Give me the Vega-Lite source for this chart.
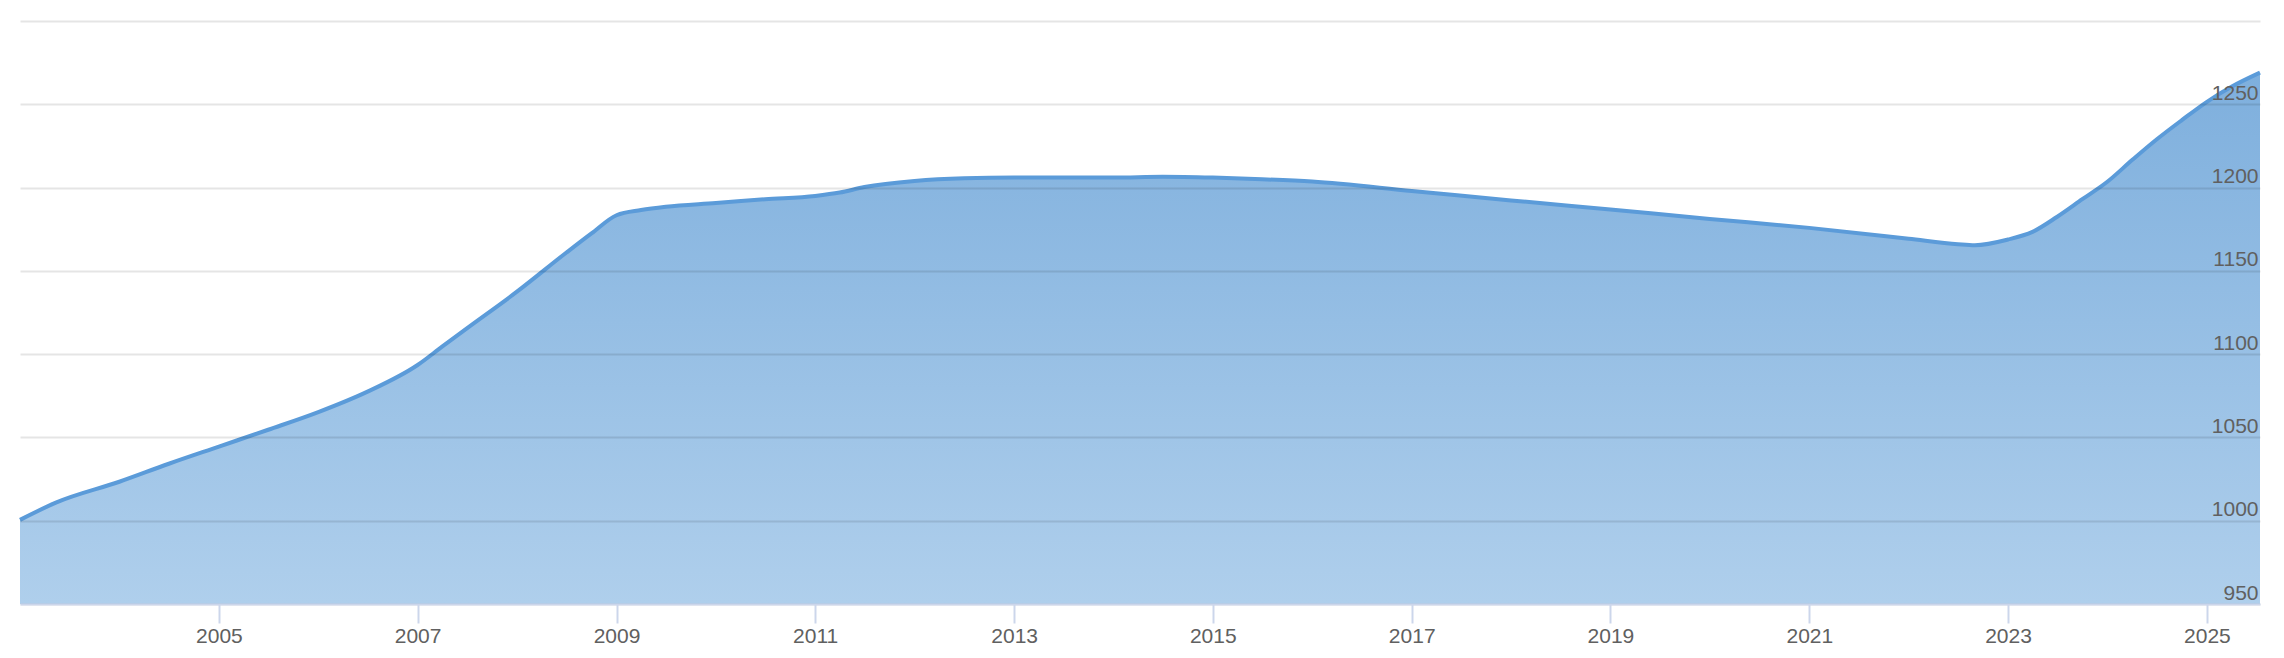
{
  "$schema": "https://vega.github.io/schema/vega-lite/v6.json",
  "width": 2240,
  "height": 583,
  "autosize": {"type": "none"},
  "padding": {"left": 20, "top": 21, "right": 24, "bottom": 54},
  "background": "#ffffff",
  "config": {
    "view": {"stroke": null},
    "axis": {"labelFont": "Liberation Sans", "labelFontSize": 21, "labelColor": "#606060", "title": null}
  },
  "data": {
    "values": [
      {"date": "2003-01-01", "value": 1000.5},
      {"date": "2003-05-15", "value": 1011.0},
      {"date": "2004-01-01", "value": 1023.4},
      {"date": "2004-07-01", "value": 1034.2},
      {"date": "2005-01-01", "value": 1044.5},
      {"date": "2005-07-01", "value": 1054.6},
      {"date": "2006-01-01", "value": 1065.2},
      {"date": "2006-07-01", "value": 1077.5},
      {"date": "2007-01-01", "value": 1093.5},
      {"date": "2007-04-01", "value": 1104.5},
      {"date": "2007-07-01", "value": 1115.5},
      {"date": "2008-01-01", "value": 1137.5},
      {"date": "2008-07-01", "value": 1161.0},
      {"date": "2008-10-01", "value": 1172.5},
      {"date": "2009-01-01", "value": 1183.4},
      {"date": "2009-04-01", "value": 1186.5},
      {"date": "2009-07-01", "value": 1188.5},
      {"date": "2010-01-01", "value": 1190.7},
      {"date": "2010-07-01", "value": 1193.0},
      {"date": "2011-01-01", "value": 1195.0},
      {"date": "2011-04-01", "value": 1197.0},
      {"date": "2011-07-01", "value": 1200.3},
      {"date": "2012-01-01", "value": 1204.0},
      {"date": "2012-07-01", "value": 1205.6},
      {"date": "2013-01-01", "value": 1206.0},
      {"date": "2014-01-01", "value": 1206.0},
      {"date": "2014-07-01", "value": 1206.5},
      {"date": "2015-01-01", "value": 1206.0},
      {"date": "2015-07-01", "value": 1205.0},
      {"date": "2016-01-01", "value": 1203.6},
      {"date": "2017-01-01", "value": 1198.0},
      {"date": "2018-01-01", "value": 1192.3},
      {"date": "2019-01-01", "value": 1186.8},
      {"date": "2020-01-01", "value": 1181.2},
      {"date": "2021-01-01", "value": 1175.8},
      {"date": "2022-01-01", "value": 1169.3},
      {"date": "2022-07-01", "value": 1166.0},
      {"date": "2022-09-01", "value": 1165.4},
      {"date": "2023-01-01", "value": 1168.8},
      {"date": "2023-04-01", "value": 1173.4},
      {"date": "2023-07-01", "value": 1182.5},
      {"date": "2023-10-01", "value": 1193.0},
      {"date": "2024-01-01", "value": 1203.5},
      {"date": "2024-04-01", "value": 1216.5},
      {"date": "2024-07-01", "value": 1229.0},
      {"date": "2024-10-01", "value": 1240.5},
      {"date": "2025-01-01", "value": 1251.5},
      {"date": "2025-04-01", "value": 1260.5},
      {"date": "2025-07-15", "value": 1269.0}
    ]
  },
  "mark": {
    "type": "area",
    "interpolate": "monotone",
    "opacity": 1,
    "color": {
      "gradient": "linear",
      "x1": 0, "y1": 0, "x2": 0, "y2": 1,
      "stops": [
        {"offset": 0, "color": "#7eafdd"},
        {"offset": 1, "color": "#afcfec"}
      ]
    },
    "line": {"color": "#5b9bd9", "strokeWidth": 4, "opacity": 1}
  },
  "encoding": {
    "x": {
      "field": "date",
      "type": "temporal",
      "scale": {"type": "utc", "domain": [{"year": 2003, "month": 1, "date": 1, "utc": true}, {"year": 2025, "month": 7, "date": 15, "utc": true}]},
      "axis": {
        "values": [
          {"year": 2005, "utc": true}, {"year": 2007, "utc": true}, {"year": 2009, "utc": true},
          {"year": 2011, "utc": true}, {"year": 2013, "utc": true}, {"year": 2015, "utc": true},
          {"year": 2017, "utc": true}, {"year": 2019, "utc": true}, {"year": 2021, "utc": true},
          {"year": 2023, "utc": true}, {"year": 2025, "utc": true}
        ],
        "format": "%Y",
        "grid": false,
        "domainColor": "#ccd6eb",
        "domainWidth": 2,
        "tickColor": "#ccd6eb",
        "tickWidth": 2,
        "tickSize": 19,
        "labelPadding": 2,
        "labelBaseline": "top",
        "zindex": 1
      }
    },
    "y": {
      "field": "value",
      "type": "quantitative",
      "scale": {"domain": [950, 1300], "nice": false, "zero": false},
      "axis": {
        "orient": "right",
        "values": [950, 1000, 1050, 1100, 1150, 1200, 1250, 1300],
        "format": "d",
        "labelExpr": "datum.value == 1300 ? '' : datum.label",
        "grid": true,
        "gridColor": "rgba(0,0,0,0.1)",
        "gridWidth": 2,
        "domain": false,
        "ticks": false,
        "tickSize": 0,
        "labelAlign": "right",
        "labelBaseline": "alphabetic",
        "labelPadding": -2,
        "labelOffset": -5,
        "zindex": 1
      }
    },
    "y2": {"datum": 950}
  }
}
